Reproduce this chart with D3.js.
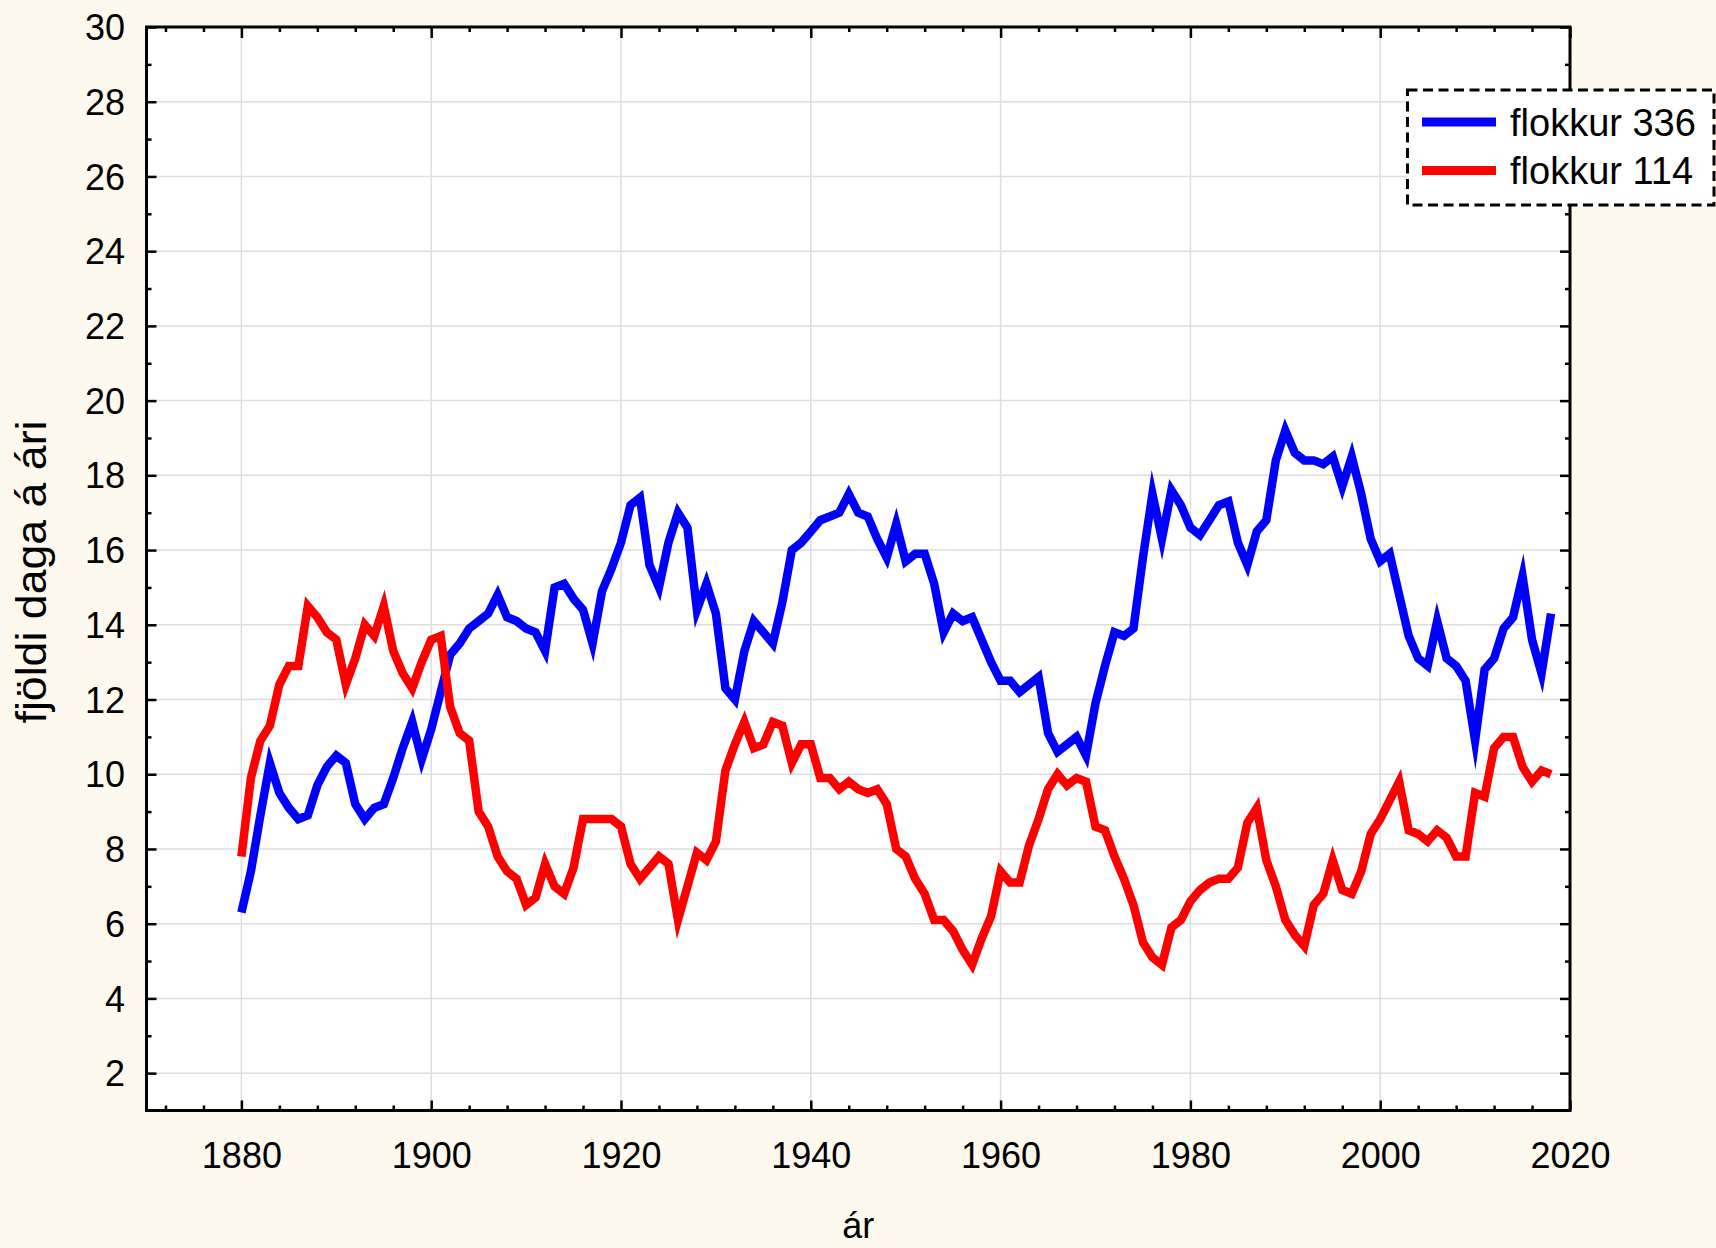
<!DOCTYPE html>
<html>
<head>
<meta charset="utf-8">
<script src="https://cdn.jsdelivr.net/npm/d3@7"></script>
<style>
  html, body { margin: 0; padding: 0; background: #fef9ee; }
  svg { display: block; }
  text { font-family: "Liberation Sans", Arial, sans-serif; fill: #000; }
</style>
</head>
<body>
<svg id="chart" width="1716" height="1248"></svg>
<script>
// ---------------- DATA ----------------
const years = d3.range(1880, 2019);

const flokkur336 = [
  6.3, 7.4, 8.9, 10.3, 9.5, 9.1, 8.8, 8.9, 9.7, 10.2,
  10.5, 10.3, 9.2, 8.8, 9.1, 9.2, 9.9, 10.7, 11.4, 10.4,
  11.2, 12.2, 13.2, 13.5, 13.9, 14.1, 14.3, 14.8, 14.2, 14.1,
  13.9, 13.8, 13.3, 15.0, 15.1, 14.7, 14.4, 13.5, 14.9, 15.5,
  16.2, 17.2, 17.4, 15.6, 15.0, 16.2, 17.0, 16.6, 14.4, 15.1,
  14.3, 12.3, 12.0, 13.3, 14.1, 13.8, 13.5, 14.6, 16.0, 16.2,
  16.5, 16.8, 16.9, 17.0, 17.5, 17.0, 16.9, 16.3, 15.8, 16.7,
  15.7, 15.9, 15.9, 15.1, 13.8, 14.3, 14.1, 14.2, 13.6, 13.0,
  12.5, 12.5, 12.2, 12.4, 12.6, 11.1, 10.6, 10.8, 11.0, 10.5,
  11.9, 12.9, 13.8, 13.7, 13.9, 15.8, 17.5, 16.3, 17.6, 17.2,
  16.6, 16.4, 16.8, 17.2, 17.3, 16.2, 15.6, 16.5, 16.8, 18.4,
  19.2, 18.6, 18.4, 18.4, 18.3, 18.5, 17.7, 18.5, 17.5, 16.3,
  15.7, 15.9, 14.8, 13.7, 13.1, 12.9, 14.1, 13.1, 12.9, 12.5,
  10.9, 12.8, 13.1, 13.9, 14.2, 15.3, 13.6, 12.7, 14.3
];

const flokkur114 = [
  7.8, 9.9, 10.9, 11.3, 12.4, 12.9, 12.9, 14.5, 14.2, 13.8,
  13.6, 12.4, 13.1, 14.0, 13.7, 14.5, 13.3, 12.7, 12.3, 13.0,
  13.6, 13.7, 11.8, 11.1, 10.9, 9.0, 8.6, 7.8, 7.4, 7.2,
  6.5, 6.7, 7.6, 7.0, 6.8, 7.5, 8.8, 8.8, 8.8, 8.8,
  8.6, 7.6, 7.2, 7.5, 7.8, 7.6, 6.1, 7.0, 7.9, 7.7,
  8.2, 10.1, 10.8, 11.4, 10.7, 10.8, 11.4, 11.3, 10.3, 10.8,
  10.8, 9.9, 9.9, 9.6, 9.8, 9.6, 9.5, 9.6, 9.2, 8.0,
  7.8, 7.2, 6.8, 6.1, 6.1, 5.8, 5.3, 4.9, 5.6, 6.2,
  7.4, 7.1, 7.1, 8.1, 8.8, 9.6, 10.0, 9.7, 9.9, 9.8,
  8.6, 8.5, 7.8, 7.2, 6.5, 5.5, 5.1, 4.9, 5.9, 6.1,
  6.6, 6.9, 7.1, 7.2, 7.2, 7.5, 8.7, 9.1, 7.7, 7.0,
  6.1, 5.7, 5.4, 6.5, 6.8, 7.7, 6.9, 6.8, 7.4, 8.4,
  8.8, 9.3, 9.8, 8.5, 8.4, 8.2, 8.5, 8.3, 7.8, 7.8,
  9.5, 9.4, 10.7, 11.0, 11.0, 10.2, 9.8, 10.1, 10.0
];

const seriesNames = ["flokkur 336", "flokkur 114"];
const seriesColors = ["#0000ff", "#ff0000"];

const xMajorTicks = [1880, 1900, 1920, 1940, 1960, 1980, 2000, 2020];
const xMinorTicks = [1872, 1876, 1884, 1888, 1892, 1896, 1904, 1908, 1912, 1916,
  1924, 1928, 1932, 1936, 1944, 1948, 1952, 1956, 1964, 1968, 1972, 1976,
  1984, 1988, 1992, 1996, 2004, 2008, 2012, 2016];
const yMajorTicks = [2, 4, 6, 8, 10, 12, 14, 16, 18, 20, 22, 24, 26, 28, 30];
const yMinorTicks = [3, 5, 7, 9, 11, 13, 15, 17, 19, 21, 23, 25, 27, 29];

const xLabel = "ár";
const yLabel = "fjöldi daga á ári";

// ---------------- LAYOUT ----------------
const L = 146.5, R = 1570, T = 27, B = 1110.5;
const svg = d3.select("#chart");

const x = d3.scaleLinear().domain([1870, 2020]).range([L, R]);
const y = d3.scaleLinear().domain([1, 30]).range([B, T]);

// plot background
svg.append("rect").attr("x", L).attr("y", T).attr("width", R - L).attr("height", B - T)
  .attr("fill", "#ffffff");

// grid
const grid = svg.append("g").attr("stroke", "#dedede").attr("stroke-width", 1.5);
grid.selectAll("line.gx").data(xMajorTicks.filter(d => d < 2020)).join("line")
  .attr("x1", d => x(d)).attr("x2", d => x(d)).attr("y1", T).attr("y2", B);
grid.selectAll("line.gy").data(yMajorTicks.filter(d => d < 30)).join("line")
  .attr("class", "gy")
  .attr("x1", L).attr("x2", R).attr("y1", d => y(d)).attr("y2", d => y(d));

// series lines
const line = d3.line().x((d, i) => x(years[i])).y(d => y(d));
[flokkur336, flokkur114].forEach((s, k) => {
  svg.append("path").datum(s)
    .attr("d", line)
    .attr("fill", "none")
    .attr("stroke", seriesColors[k])
    .attr("stroke-width", 8.5)
    .attr("stroke-linejoin", "miter")
    .attr("stroke-miterlimit", 10)
    .attr("stroke-linecap", "butt");
});

// axes (ticks inside, mirrored)
function styleAxis(g) {
  g.select(".domain").remove();
  g.selectAll(".tick line").attr("stroke", "#000").attr("stroke-width", 2.5);
}
const fs = 36;
// bottom major with labels
svg.append("g").attr("transform", `translate(0,${B})`)
  .call(d3.axisBottom(x).tickValues(xMajorTicks).tickSize(-10).tickPadding(31.5).tickFormat(d3.format("d")))
  .call(styleAxis)
  .call(g => g.selectAll("text").attr("font-size", fs).attr("font-family", "Liberation Sans, Arial, sans-serif").attr("fill", "#000"));
svg.append("g").attr("transform", `translate(0,${B})`)
  .call(d3.axisBottom(x).tickValues(xMinorTicks).tickSize(-5).tickFormat(""))
  .call(styleAxis);
// top
svg.append("g").attr("transform", `translate(0,${T})`)
  .call(d3.axisTop(x).tickValues(xMajorTicks).tickSize(-11).tickFormat(""))
  .call(styleAxis);
svg.append("g").attr("transform", `translate(0,${T})`)
  .call(d3.axisTop(x).tickValues(xMinorTicks).tickSize(-5).tickFormat(""))
  .call(styleAxis);
// left with labels
svg.append("g").attr("transform", `translate(${L},0)`)
  .call(d3.axisLeft(y).tickValues(yMajorTicks).tickSize(-10).tickPadding(21.5).tickFormat(d3.format("d")))
  .call(styleAxis)
  .call(g => g.selectAll("text").attr("font-size", fs).attr("font-family", "Liberation Sans, Arial, sans-serif").attr("fill", "#000").attr("dy", "0.35em"));
svg.append("g").attr("transform", `translate(${L},0)`)
  .call(d3.axisLeft(y).tickValues(yMinorTicks).tickSize(-5).tickFormat(""))
  .call(styleAxis);
// right
svg.append("g").attr("transform", `translate(${R},0)`)
  .call(d3.axisRight(y).tickValues(yMajorTicks).tickSize(-10).tickFormat(""))
  .call(styleAxis);
svg.append("g").attr("transform", `translate(${R},0)`)
  .call(d3.axisRight(y).tickValues(yMinorTicks).tickSize(-5).tickFormat(""))
  .call(styleAxis);

// frame
svg.append("rect").attr("x", L).attr("y", T).attr("width", R - L).attr("height", B - T)
  .attr("fill", "none").attr("stroke", "#000").attr("stroke-width", 3);

// axis titles
svg.append("text").attr("x", (L + R) / 2).attr("y", 1238)
  .attr("text-anchor", "middle").attr("font-size", fs).text(xLabel);
svg.append("text").attr("transform", "translate(46,572) rotate(-90)")
  .attr("text-anchor", "middle").attr("font-size", 43)
  .attr("textLength", 303).attr("lengthAdjust", "spacingAndGlyphs")
  .text(yLabel);

// legend
const lg = svg.append("g");
lg.append("rect").attr("x", 1407.5).attr("y", 90).attr("width", 306.5).attr("height", 115)
  .attr("fill", "#ffffff").attr("stroke", "#000").attr("stroke-width", 3)
  .attr("stroke-dasharray", "10,5.5");
seriesNames.forEach((name, k) => {
  const cy = 122 + k * 48.5;
  lg.append("line").attr("x1", 1422).attr("x2", 1496).attr("y1", cy).attr("y2", cy)
    .attr("stroke", seriesColors[k]).attr("stroke-width", 9);
  lg.append("text").attr("x", 1510).attr("y", cy + 13.5)
    .attr("font-size", 38).text(name);
});
</script>
</body>
</html>
